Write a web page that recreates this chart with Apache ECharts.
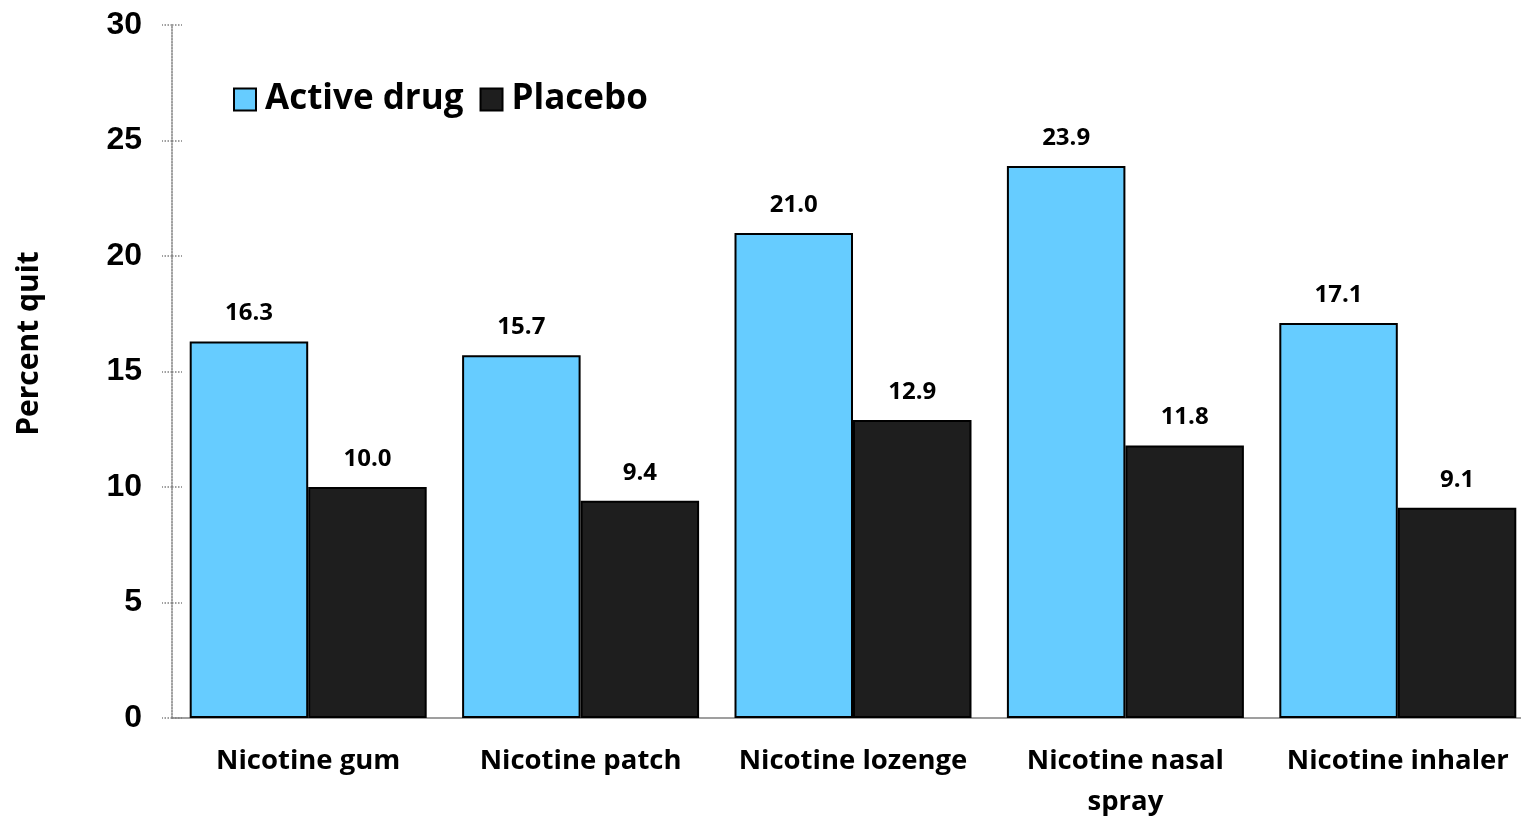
<!DOCTYPE html>
<html>
<head>
<meta charset="utf-8">
<script src="https://cdn.jsdelivr.net/npm/echarts@6/dist/echarts.min.js"></script>
<style>
html,body{margin:0;padding:0;background:#fff;}
#main{width:1521px;height:818px;}
</style>
</head>
<body>
<div id="main"></div>
<script>
var categories = ['Nicotine gum', 'Nicotine patch', 'Nicotine lozenge', 'Nicotine nasal\nspray', 'Nicotine inhaler'];
var activeDrug = [16.3, 15.7, 21.0, 23.9, 17.1];
var placebo = [10.0, 9.4, 12.9, 11.8, 9.1];
var yTicks = [0, 5, 10, 15, 20, 25, 30];

var chart = echarts.init(document.getElementById('main'));
var labelFont = '"Open Sans", "Noto Sans", sans-serif';

var option = {
    animation: false,
    backgroundColor: '#fff',
    grid: {left: 172, right: -13, top: 25, bottom: 100, outerBoundsMode: 'none', containLabel: false},
    legend: {
        left: 228, top: 77,
        itemWidth: 22, itemHeight: 22, itemGap: 16,
        textStyle: {fontSize: 35, fontWeight: 'bold', color: '#000', fontFamily: labelFont, padding: [0, 0, 0, 4]},
        data: [
            {name: 'Active drug', icon: 'rect', itemStyle: {borderColor: '#000', borderWidth: 2}},
            {name: 'Placebo', icon: 'rect', itemStyle: {borderColor: '#000', borderWidth: 2}}
        ]
    },
    xAxis: {
        type: 'category',
        data: categories,
        axisLine: {lineStyle: {color: '#808080', width: 1.5}},
        axisTick: {show: false},
        axisLabel: {
            color: '#000', fontSize: 27.5, fontWeight: 'bold', fontFamily: labelFont,
            margin: 23, lineHeight: 41, interval: 0
        }
    },
    yAxis: [{
        type: 'value', min: 0, max: 30, interval: 5,
        name: 'Percent quit',
        nameLocation: 'middle', nameGap: 128, nameRotate: 90,
        nameTextStyle: {fontSize: 30, fontWeight: 'bold', color: '#000', fontFamily: labelFont, padding: [0, 0, 0, 56]},
        axisLine: {show: true, lineStyle: {color: '#808080', type: 'dotted', width: 1.5}},
        axisTick: {show: true, length: 10, lineStyle: {color: '#808080', type: 'dotted', width: 1.5}},
        splitLine: {show: false},
        axisLabel: {
            color: '#000', fontSize: 32, fontWeight: 'bold', fontFamily: 'Liberation Sans, Arial, sans-serif',
            margin: 30,
            formatter: function (v) { return yTicks.indexOf(v) >= 0 ? String(v) : ''; }
        }
    }, {
        type: 'value', min: 0, max: 30, interval: 5,
        position: 'left',
        axisLine: {show: false},
        axisTick: {show: true, inside: true, length: 10, lineStyle: {color: '#808080', type: 'dotted', width: 1.5}},
        splitLine: {show: false},
        axisLabel: {show: false}
    }],
    series: [{
        name: 'Active drug',
        type: 'bar',
        data: activeDrug,
        barGap: '0%',
        barCategoryGap: '13%',
        itemStyle: {color: '#66ccff', borderColor: '#000', borderWidth: 2},
        label: {
            show: true, position: 'top', distance: 16,
            color: '#000', fontSize: 24, fontWeight: 'bold', fontFamily: labelFont,
            formatter: function (p) { return p.value.toFixed(1); }
        }
    }, {
        name: 'Placebo',
        type: 'bar',
        data: placebo,
        itemStyle: {color: '#1e1e1e', borderColor: '#000', borderWidth: 2},
        label: {
            show: true, position: 'top', distance: 16,
            color: '#000', fontSize: 24, fontWeight: 'bold', fontFamily: labelFont,
            formatter: function (p) { return p.value.toFixed(1); }
        }
    }]
};
chart.setOption(option);
</script>
</body>
</html>
